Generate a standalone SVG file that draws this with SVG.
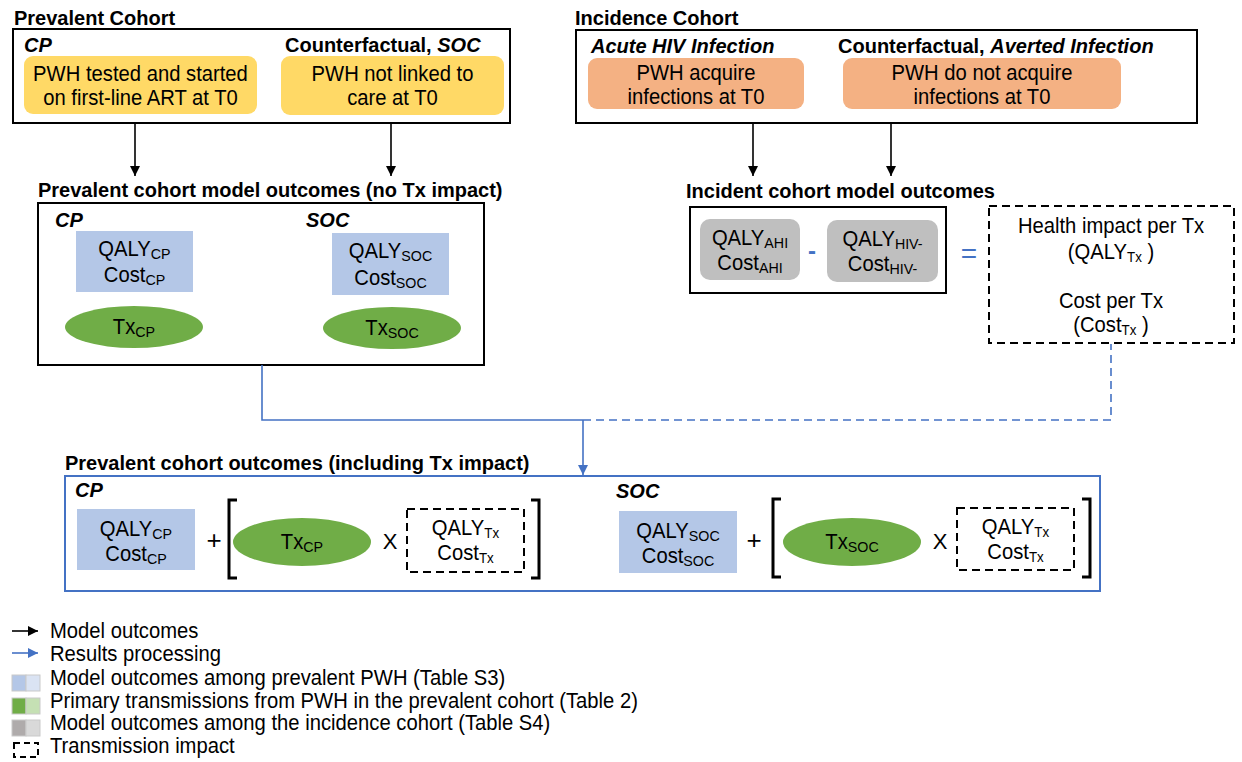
<svg xmlns="http://www.w3.org/2000/svg" width="1242" height="762" viewBox="0 0 1242 762">
<defs>
<style>
text{font-family:"Liberation Sans",Arial,sans-serif;fill:#000}
.t{font-size:20px;font-weight:bold}
.bi{font-size:20px;font-weight:bold;font-style:italic}
.r{font-size:22px;transform-box:fill-box;transform:scaleX(0.92);transform-origin:left center}
.c{text-anchor:middle;transform-origin:center}
.s{font-size:15.5px}
.s2{font-size:14.5px}
.box{fill:#fff;stroke:#000;stroke-width:2}
.dash{fill:#fff;stroke:#000;stroke-width:2;stroke-dasharray:8 5}
.yel{fill:#FFD966}
.ora{fill:#F4B183}
.blu{fill:#B4C7E7}
.grn{fill:#70AD47}
.gry{fill:#BFBFBF}
.blk{stroke:#000;stroke-width:1.6;fill:none}
.bl{stroke:#4472C4;stroke-width:1.6;fill:none}
.brk{stroke:#000;stroke-width:3;fill:none}
</style>
<marker id="ah" viewBox="0 0 10 10" refX="10" refY="5" markerWidth="10" markerHeight="10" markerUnits="userSpaceOnUse" orient="auto"><path d="M0,0 L10,5 L0,10 z" fill="#000"/></marker>
<marker id="ahb" viewBox="0 0 10 10" refX="10" refY="5" markerWidth="10" markerHeight="10" markerUnits="userSpaceOnUse" orient="auto"><path d="M0,0 L10,5 L0,10 z" fill="#4472C4"/></marker>
</defs>
<rect width="1242" height="762" fill="#fff"/>

<!-- Prevalent cohort -->
<g id="prevalent-cohort">
<text class="t" x="14" y="25">Prevalent Cohort</text>
<rect class="box" x="13" y="29" width="497" height="94"/>
<text class="bi" x="24" y="52">CP</text>
<text class="t" x="285" y="52">Counterfactual, <tspan font-style="italic">SOC</tspan></text>
</g>
<g id="cp-start">
<rect class="yel" x="24" y="56" width="233" height="58" rx="9"/>
<text class="r c" x="140.5" y="81">PWH tested and started</text>
<text class="r c" x="140.5" y="105">on first-line ART at T0</text>
</g>
<g id="soc-start">
<rect class="yel" x="281" y="56" width="223" height="59" rx="9"/>
<text class="r c" x="392.5" y="81">PWH not linked to</text>
<text class="r c" x="392.5" y="105">care at T0</text>
</g>

<!-- Incidence cohort -->
<g id="incidence-cohort">
<text class="t" x="575" y="25">Incidence Cohort</text>
<rect class="box" x="576" y="30" width="621" height="93"/>
<text class="bi" x="591" y="53">Acute HIV Infection</text>
<text class="t" x="838" y="53">Counterfactual, <tspan font-style="italic">Averted Infection</tspan></text>
</g>
<g id="ahi-start">
<rect class="ora" x="588" y="58" width="216" height="51" rx="9"/>
<text class="r c" x="696" y="80">PWH acquire</text>
<text class="r c" x="696" y="104">infections at T0</text>
</g>
<g id="averted-start">
<rect class="ora" x="843" y="58" width="278" height="51" rx="9"/>
<text class="r c" x="982" y="80">PWH do not acquire</text>
<text class="r c" x="982" y="104">infections at T0</text>
</g>

<!-- Prevalent cohort model outcomes -->
<g id="prevalent-outcomes">
<text class="t" x="38" y="197">Prevalent cohort model outcomes (no Tx impact)</text>
<rect class="box" x="38" y="203" width="446" height="162"/>
<text class="bi" x="55" y="227">CP</text>
<text class="bi" x="306" y="227">SOC</text>
</g>
<g id="cp-outcomes">
<rect class="blu" x="76" y="231" width="117" height="61"/>
<text class="r c" x="134.5" y="256">QALY<tspan class="s" dy="3">CP</tspan></text>
<text class="r c" x="134.5" y="282">Cost<tspan class="s" dy="3">CP</tspan></text>
</g>
<g id="soc-outcomes">
<rect class="blu" x="332" y="233" width="117" height="62"/>
<text class="r c" x="390.5" y="258">QALY<tspan class="s" dy="3">SOC</tspan></text>
<text class="r c" x="390.5" y="285">Cost<tspan class="s" dy="3">SOC</tspan></text>
</g>
<g id="tx-cp">
<ellipse class="grn" cx="134" cy="327" rx="69" ry="21"/>
<text class="r c" x="134" y="334">Tx<tspan class="s" dy="3">CP</tspan></text>
</g>
<g id="tx-soc">
<ellipse class="grn" cx="392" cy="328" rx="69" ry="21"/>
<text class="r c" x="392" y="335">Tx<tspan class="s" dy="3">SOC</tspan></text>
</g>

<!-- Incident cohort model outcomes -->
<g id="incident-outcomes">
<text class="t" x="686" y="198">Incident cohort model outcomes</text>
<rect class="box" x="690" y="207" width="256" height="86"/>
<text x="812" y="259" font-size="24" font-weight="bold" text-anchor="middle" style="fill:#4472C4">-</text>
</g>
<g id="ahi-outcomes">
<rect class="gry" x="700" y="219" width="100" height="61" rx="10"/>
<text class="r c" x="750" y="245">QALY<tspan class="s" dy="3">AHI</tspan></text>
<text class="r c" x="750" y="270">Cost<tspan class="s" dy="3">AHI</tspan></text>
</g>
<g id="hivneg-outcomes">
<rect class="gry" x="827" y="220" width="111" height="62" rx="10"/>
<text class="r c" x="882.5" y="246">QALY<tspan class="s" dy="3">HIV-</tspan></text>
<text class="r c" x="882.5" y="271">Cost<tspan class="s" dy="3">HIV-</tspan></text>
</g>
<text x="969" y="263" font-size="28" text-anchor="middle" style="fill:#4472C4">=</text>
<g id="tx-impact">
<rect class="dash" x="989" y="206" width="245" height="137"/>
<text class="r c" x="1111" y="233">Health impact per Tx</text>
<text class="r c" x="1111" y="259">(QALY<tspan class="s2" dy="3">Tx</tspan><tspan dy="-3"> )</tspan></text>
<text class="r c" x="1111" y="308">Cost per Tx</text>
<text class="r c" x="1111" y="332">(Cost<tspan class="s2" dy="3">Tx</tspan><tspan dy="-3"> )</tspan></text>
</g>

<!-- Connectors -->
<g id="connectors">
<line class="blk" x1="135" y1="123" x2="135" y2="176" marker-end="url(#ah)"/>
<line class="blk" x1="391" y1="123" x2="391" y2="176" marker-end="url(#ah)"/>
<line class="blk" x1="753" y1="123" x2="753" y2="176" marker-end="url(#ah)"/>
<line class="blk" x1="891" y1="123" x2="891" y2="176" marker-end="url(#ah)"/>
<polyline class="bl" points="262,365 262,420 583,420"/>
<polyline class="bl" points="583,420 1111,420 1111,344" stroke-dasharray="8 5"/>
<line class="bl" x1="583" y1="420" x2="583" y2="475" marker-end="url(#ahb)"/>
</g>

<!-- Prevalent cohort outcomes including Tx impact -->
<g id="final-outcomes">
<text class="t" x="65" y="470">Prevalent cohort outcomes (including Tx impact)</text>
<rect x="65" y="476" width="1035" height="115" fill="#fff" stroke="#4472C4" stroke-width="2"/>
<text class="bi" x="75" y="497">CP</text>
<text class="bi" x="616" y="498">SOC</text>
</g>
<g id="final-cp">
<rect class="blu" x="77" y="509" width="118" height="61"/>
<text class="r c" x="136" y="536">QALY<tspan class="s" dy="3">CP</tspan></text>
<text class="r c" x="136" y="561">Cost<tspan class="s" dy="3">CP</tspan></text>
<text x="214" y="549" font-size="26" text-anchor="middle">+</text>
<path class="brk" d="M237,500 H229 V578 H237"/>
<ellipse class="grn" cx="302" cy="542" rx="69" ry="24"/>
<text class="r c" x="302" y="549">Tx<tspan class="s" dy="3">CP</tspan></text>
<text x="390" y="549" font-size="22" text-anchor="middle">X</text>
<rect class="dash" x="407" y="509" width="117" height="63"/>
<text class="r c" x="465.5" y="535">QALY<tspan class="s2" dy="3">Tx</tspan></text>
<text class="r c" x="465.5" y="560">Cost<tspan class="s2" dy="3">Tx</tspan></text>
<path class="brk" d="M531,500 H539 V578 H531"/>
</g>
<g id="final-soc">
<rect class="blu" x="619" y="511" width="118" height="62"/>
<text class="r c" x="678" y="538">QALY<tspan class="s" dy="3">SOC</tspan></text>
<text class="r c" x="678" y="563">Cost<tspan class="s" dy="3">SOC</tspan></text>
<text x="754" y="549" font-size="26" text-anchor="middle">+</text>
<path class="brk" d="M781,499 H773 V577 H781"/>
<ellipse class="grn" cx="852" cy="542" rx="69" ry="24"/>
<text class="r c" x="852" y="549">Tx<tspan class="s" dy="3">SOC</tspan></text>
<text x="940" y="549" font-size="22" text-anchor="middle">X</text>
<rect class="dash" x="957" y="508" width="117" height="62"/>
<text class="r c" x="1015.5" y="534">QALY<tspan class="s2" dy="3">Tx</tspan></text>
<text class="r c" x="1015.5" y="559">Cost<tspan class="s2" dy="3">Tx</tspan></text>
<path class="brk" d="M1082,499 H1090 V577 H1082"/>
</g>

<!-- Legend -->
<g id="legend">
<line class="blk" x1="12" y1="631" x2="38" y2="631" marker-end="url(#ah)"/>
<text class="r" x="50" y="638">Model outcomes</text>
<line class="bl" x1="12" y1="653" x2="38" y2="653" marker-end="url(#ahb)"/>
<text class="r" x="50" y="661">Results processing</text>
<rect x="12" y="675" width="14" height="16" fill="#B4C7E7" stroke="#c9c9c9" stroke-width="1"/>
<rect x="26" y="675" width="14" height="16" fill="#DAE3F3" stroke="#c9c9c9" stroke-width="1"/>
<text class="r" x="50" y="685">Model outcomes among prevalent PWH (Table S3)</text>
<rect x="12" y="698" width="14" height="16" fill="#70AD47" stroke="#c9c9c9" stroke-width="1"/>
<rect x="26" y="698" width="14" height="16" fill="#C5E0B4" stroke="#c9c9c9" stroke-width="1"/>
<text class="r" x="50" y="708">Primary transmissions from PWH in the prevalent cohort (Table 2)</text>
<rect x="12" y="720" width="14" height="16" fill="#AFABAB" stroke="#c9c9c9" stroke-width="1"/>
<rect x="26" y="720" width="14" height="16" fill="#D9D9D9" stroke="#c9c9c9" stroke-width="1"/>
<text class="r" x="50" y="730">Model outcomes among the incidence cohort (Table S4)</text>
<rect x="14" y="743" width="24" height="14" fill="none" stroke="#000" stroke-width="2" stroke-dasharray="6 4"/>
<text class="r" x="50" y="753">Transmission impact</text>
</g>
</svg>
